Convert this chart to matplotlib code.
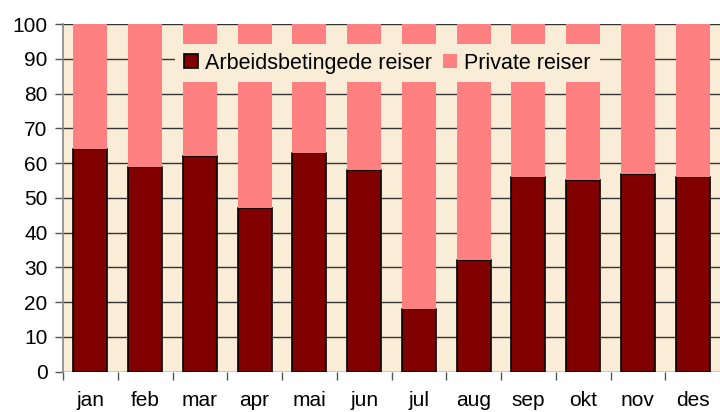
import matplotlib
matplotlib.use("Agg")
import matplotlib.pyplot as plt
from matplotlib.patches import Patch
import numpy as np

months = ["jan", "feb", "mar", "apr", "mai", "jun", "jul", "aug", "sep", "okt", "nov", "des"]
arbeid = [64, 59, 62, 47, 63, 58, 18, 32, 56, 55, 57, 56]
private = [100 - v for v in arbeid]
yticks = [0, 10, 20, 30, 40, 50, 60, 70, 80, 90, 100]

plt.rcParams['font.family'] = ['Liberation Sans', 'DejaVu Sans']

fig = plt.figure(figsize=(7.2, 4.12), dpi=100)
ax = fig.add_axes([63/720, 40.3/412, 657/720, 347.7/412])
ax.set_facecolor('#FAEDD7')

x = np.arange(len(months))
ax.bar(x, arbeid, width=0.62, color='#800000', edgecolor='black', linewidth=1.2, zorder=3)
ax.bar(x, private, bottom=arbeid, width=0.62, color='#FF8080', linewidth=0, zorder=3)

ax.set_xlim(-0.5, len(months) - 0.5)
ax.set_ylim(0, 100)
ax.set_yticks(yticks)
ax.tick_params(axis='y', labelsize=15, length=6, width=1, color='#555555', pad=5)
ax.yaxis.grid(True, color='#333333', linewidth=1, zorder=1)
ax.set_axisbelow(True)

ax.set_xticks(np.arange(-0.5, len(months) - 0.5, 1), minor=False)
ax.set_xticklabels([])
ax.set_xticks(x, minor=True)
ax.set_xticklabels(months, minor=True)
ax.tick_params(axis='x', which='major', length=6, width=1, color='#555555')
ax.tick_params(axis='x', which='minor', length=0, labelsize=15, pad=14)

for s in ['top', 'right', 'bottom']:
    ax.spines[s].set_visible(False)
ax.spines['left'].set_color('#888888')
ax.spines['left'].set_linewidth(1.2)

handles = [Patch(facecolor='#800000', edgecolor='black', linewidth=1.2),
           Patch(facecolor='#FF8080', edgecolor='none')]
leg = ax.legend(handles, ['Arbeidsbetingede reiser', 'Private reiser'], ncol=2,
                loc='upper left', bbox_to_anchor=((175 - 63) / 657, (371.7 - 44) / 347.7),
                frameon=True, fancybox=False, fontsize=15.5, handlelength=0.65, handleheight=0.65,
                handletextpad=0.35, columnspacing=0.5, borderpad=0.4, borderaxespad=0)
leg.get_frame().set_facecolor('#FAEDD7')
leg.get_frame().set_edgecolor('none')
leg.get_frame().set_alpha(1)
leg.set_zorder(5)

fig.savefig('out.png', dpi=100, facecolor='white')
